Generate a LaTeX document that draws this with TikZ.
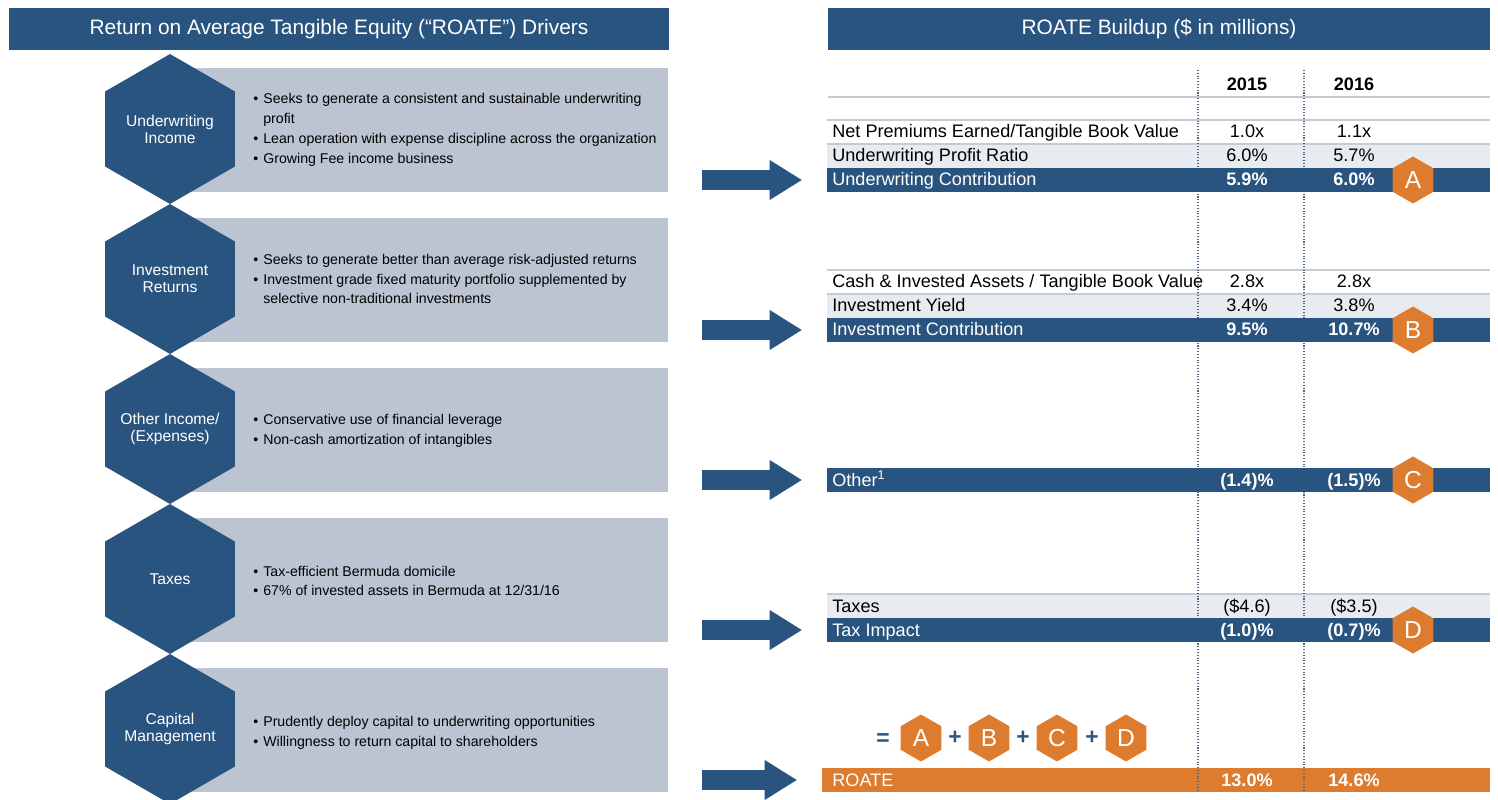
\documentclass[tikz,border=0pt]{standalone}
\usepackage{fontspec}
\setmainfont{Liberation Sans}
\usetikzlibrary{shapes.geometric,arrows.meta}

\definecolor{roatenavy}{HTML}{2A5480}
\definecolor{roateorange}{HTML}{DD7B2F}
\definecolor{boxgray}{HTML}{BCC4D2}
\definecolor{rowgray}{HTML}{E8EBF0}
\definecolor{rulegray}{HTML}{C5CBD4}
\definecolor{dotblue}{HTML}{4F6482}

\newcommand{\bitem}{\makebox[0.2cm][l]{\textbullet}}
\newcommand{\bcont}{\hspace*{0.2cm}}

\begin{document}
\begin{tikzpicture}[x=0.02cm, y=-0.02cm,
    titlebar/.style={fill=roatenavy, text=white, minimum height=0.84cm, inner sep=0pt, font=\fontsize{11.9}{13}\selectfont},
    driver/.style={regular polygon, regular polygon sides=6, shape border rotate=90, fill=roatenavy, minimum size=3cm, inner ysep=0pt, inner xsep=-0.4cm, text=white, align=center, font=\fontsize{8.9}{9.6}\selectfont},
    drvbox/.style={fill=boxgray, minimum width=9.96cm, minimum height=2.48cm, inner sep=0pt},
    bullets/.style={anchor=west, align=left, inner sep=0pt, font=\fontsize{8.05}{11.3}\selectfont},
    bluebar/.style={fill=roatenavy, minimum width=13.26cm, minimum height=0.48cm, inner sep=0pt},
    graybar/.style={fill=rowgray, minimum width=13.26cm, minimum height=0.48cm, inner sep=0pt},
    rowlabel/.style={anchor=base west, inner sep=0pt, font=\fontsize{10.3}{12}\selectfont},
    rowvalue/.style={anchor=base, inner sep=0pt, font=\fontsize{10.3}{12}\selectfont},
    yearlabel/.style={rowvalue, font=\fontsize{10.3}{12}\selectfont\bfseries},
    barlabel/.style={rowlabel, text=white},
    barvalue/.style={rowvalue, text=white, font=\fontsize{10.3}{12}\selectfont\bfseries},
    badge/.style={regular polygon, regular polygon sides=6, shape border rotate=90, fill=roateorange, minimum size=0.94cm, inner sep=0pt, text=white, font=\fontsize{14}{14}\selectfont},
    opsign/.style={inner sep=0pt, text=roatenavy, font=\fontsize{13}{13}\selectfont\bfseries},
    bigarrow/.style={roatenavy, line width=0.4cm, -{Triangle[width=0.8cm, length=0.64cm, line width=0pt]}, shorten <=0.68cm, shorten >=0.5cm},
    rowrule/.style={rulegray, line width=0.6pt},
    dotline/.style={dotblue, densely dotted, line width=0.6pt}
]

    \useasboundingbox (0,0) rectangle (1498,800);

    % Title bars
    \node[titlebar, minimum width=13.2cm] (lhead) at (339,29) {Return on Average Tangible Equity (“ROATE”) Drivers};
    \node[titlebar, minimum width=13.24cm] (rhead) at (1159,29) {ROATE Buildup (\$ in millions)};

    % Gray boxes behind the drivers
    \node[drvbox] (box1) at (419,130) {};
    \node[drvbox] (box2) at (419,280) {};
    \node[drvbox] (box3) at (419,430) {};
    \node[drvbox] (box4) at (419,580) {};
    \node[drvbox] (box5) at (419,730) {};

    % Driver hexagons
    \node[driver] (uw) at (170,129) {Underwriting\\Income};
    \node[driver] (inv) at (170,279) {Investment\\Returns};
    \node[driver] (oth) at (170,429) {Other Income/\\(Expenses)};
    \node[driver] (tax) at (170,579) {Taxes};
    \node[driver] (cap) at (170,729) {Capital\\Management};

    % Bullet points
    \node[bullets] (uwtext) at (253,130) {\bitem Seeks to generate a consistent and sustainable underwriting\\\bcont profit\\\bitem Lean operation with expense discipline across the organization\\\bitem Growing Fee income business};
    \node[bullets] (invtext) at (253,279) {\bitem Seeks to generate better than average risk-adjusted returns\\\bitem Investment grade fixed maturity portfolio supplemented by\\\bcont selective non-traditional investments};
    \node[bullets] (othtext) at (253,431) {\bitem Conservative use of financial leverage\\\bitem Non-cash amortization of intangibles};
    \node[bullets] (taxtext) at (253,581) {\bitem Tax-efficient Bermuda domicile\\\bitem 67\% of invested assets in Bermuda at 12/31/16};
    \node[bullets] (captext) at (253,733) {\bitem Prudently deploy capital to underwriting opportunities\\\bitem Willingness to return capital to shareholders};

    % Table background rows and rules
    \draw[rowrule] (828,97) -- (1490,97);
    \draw[rowrule] (827,120) -- (1490,120);
    \node[graybar] (uprow) at (1158.5,156) {};
    \draw[rowrule] (827,144) -- (1490,144);
    \draw[rowrule] (827,270) -- (1490,270);
    \node[graybar] (yldrow) at (1158.5,306) {};
    \draw[rowrule] (827,294) -- (1490,294);
    \node[graybar] (taxrow) at (1158.5,606) {};
    \draw[rowrule] (827,594) -- (1490,594);

    % ROATE bar
    \node[fill=roateorange, minimum width=13.36cm, minimum height=0.48cm, inner sep=0pt] (roatebar) at (1156,780) {};

    % Column separators
    \draw[dotline] (1198,70) -- (1198,792);
    \draw[dotline] (1304,70) -- (1304,792);

    % Contribution bars
    \node[bluebar] (uwbar) at (1158.5,180) {};
    \node[bluebar] (invbar) at (1158.5,330) {};
    \node[bluebar] (othbar) at (1158.5,480) {};
    \node[bluebar] (taxbar) at (1158.5,630) {};

    % Years
    \node[yearlabel] (y15) at (1247,91) {2015};
    \node[yearlabel] (y16) at (1354,91) {2016};

    % Underwriting block
    \node[rowlabel] (npe) at (832,138) {Net Premiums Earned/Tangible Book Value};
    \node[rowvalue] (npe15) at (1247,138) {1.0x};
    \node[rowvalue] (npe16) at (1354,138) {1.1x};
    \node[rowlabel] (upr) at (832,162) {Underwriting Profit Ratio};
    \node[rowvalue] (upr15) at (1247,162) {6.0\%};
    \node[rowvalue] (upr16) at (1354,162) {5.7\%};
    \node[barlabel] (uwc) at (832,186) {Underwriting Contribution};
    \node[barvalue] (uwc15) at (1247,186) {5.9\%};
    \node[barvalue] (uwc16) at (1354,186) {6.0\%};

    % Investment block
    \node[rowlabel] (cia) at (832,288) {Cash \& Invested Assets / Tangible Book Value};
    \node[rowvalue] (cia15) at (1247,288) {2.8x};
    \node[rowvalue] (cia16) at (1354,288) {2.8x};
    \node[rowlabel] (iy) at (832,312) {Investment Yield};
    \node[rowvalue] (iy15) at (1247,312) {3.4\%};
    \node[rowvalue] (iy16) at (1354,312) {3.8\%};
    \node[barlabel] (ic) at (832,336) {Investment Contribution};
    \node[barvalue] (ic15) at (1247,336) {9.5\%};
    \node[barvalue] (ic16) at (1354,336) {10.7\%};

    % Other block
    \node[barlabel] (other) at (832,486) {Other\textsuperscript{1}};
    \node[barvalue] (other15) at (1247,486) {(1.4)\%};
    \node[barvalue] (other16) at (1354,486) {(1.5)\%};

    % Tax block
    \node[rowlabel] (taxes) at (832,612) {Taxes};
    \node[rowvalue] (taxes15) at (1247,612) {(\$4.6)};
    \node[rowvalue] (taxes16) at (1354,612) {(\$3.5)};
    \node[barlabel] (ti) at (832,636) {Tax Impact};
    \node[barvalue] (ti15) at (1247,636) {(1.0)\%};
    \node[barvalue] (ti16) at (1354,636) {(0.7)\%};

    % ROATE row
    \node[barlabel] (roate) at (832,786) {ROATE};
    \node[barvalue] (roate15) at (1247,786) {13.0\%};
    \node[barvalue] (roate16) at (1354,786) {14.6\%};

    % Letter badges
    \node[badge] (ba) at (1413,180) {A};
    \node[badge] (bb) at (1413,330) {B};
    \node[badge] (bc) at (1413,480) {C};
    \node[badge] (bd) at (1413,630) {D};

    % ROATE = A + B + C + D
    \node[opsign] (eq) at (883,740) {=};
    \node[badge] (ea) at (921,738) {A};
    \node[opsign] (p1) at (955,738) {+};
    \node[badge] (eb) at (989,738) {B};
    \node[opsign] (p2) at (1023,738) {+};
    \node[badge] (ec) at (1057,738) {C};
    \node[opsign] (p3) at (1092,738) {+};
    \node[badge] (ed) at (1126,738) {D};

    % Arrows from drivers to the buildup rows
    \draw[bigarrow] (box1.east |- uwbar.west) -- (uwbar.west);
    \draw[bigarrow] (box2.east |- invbar.west) -- (invbar.west);
    \draw[bigarrow] (box3.east |- othbar.west) -- (othbar.west);
    \draw[bigarrow] (box4.east |- taxbar.west) -- (taxbar.west);
    \draw[bigarrow] (box5.east |- roatebar.west) -- (roatebar.west);

\end{tikzpicture}
\end{document}
